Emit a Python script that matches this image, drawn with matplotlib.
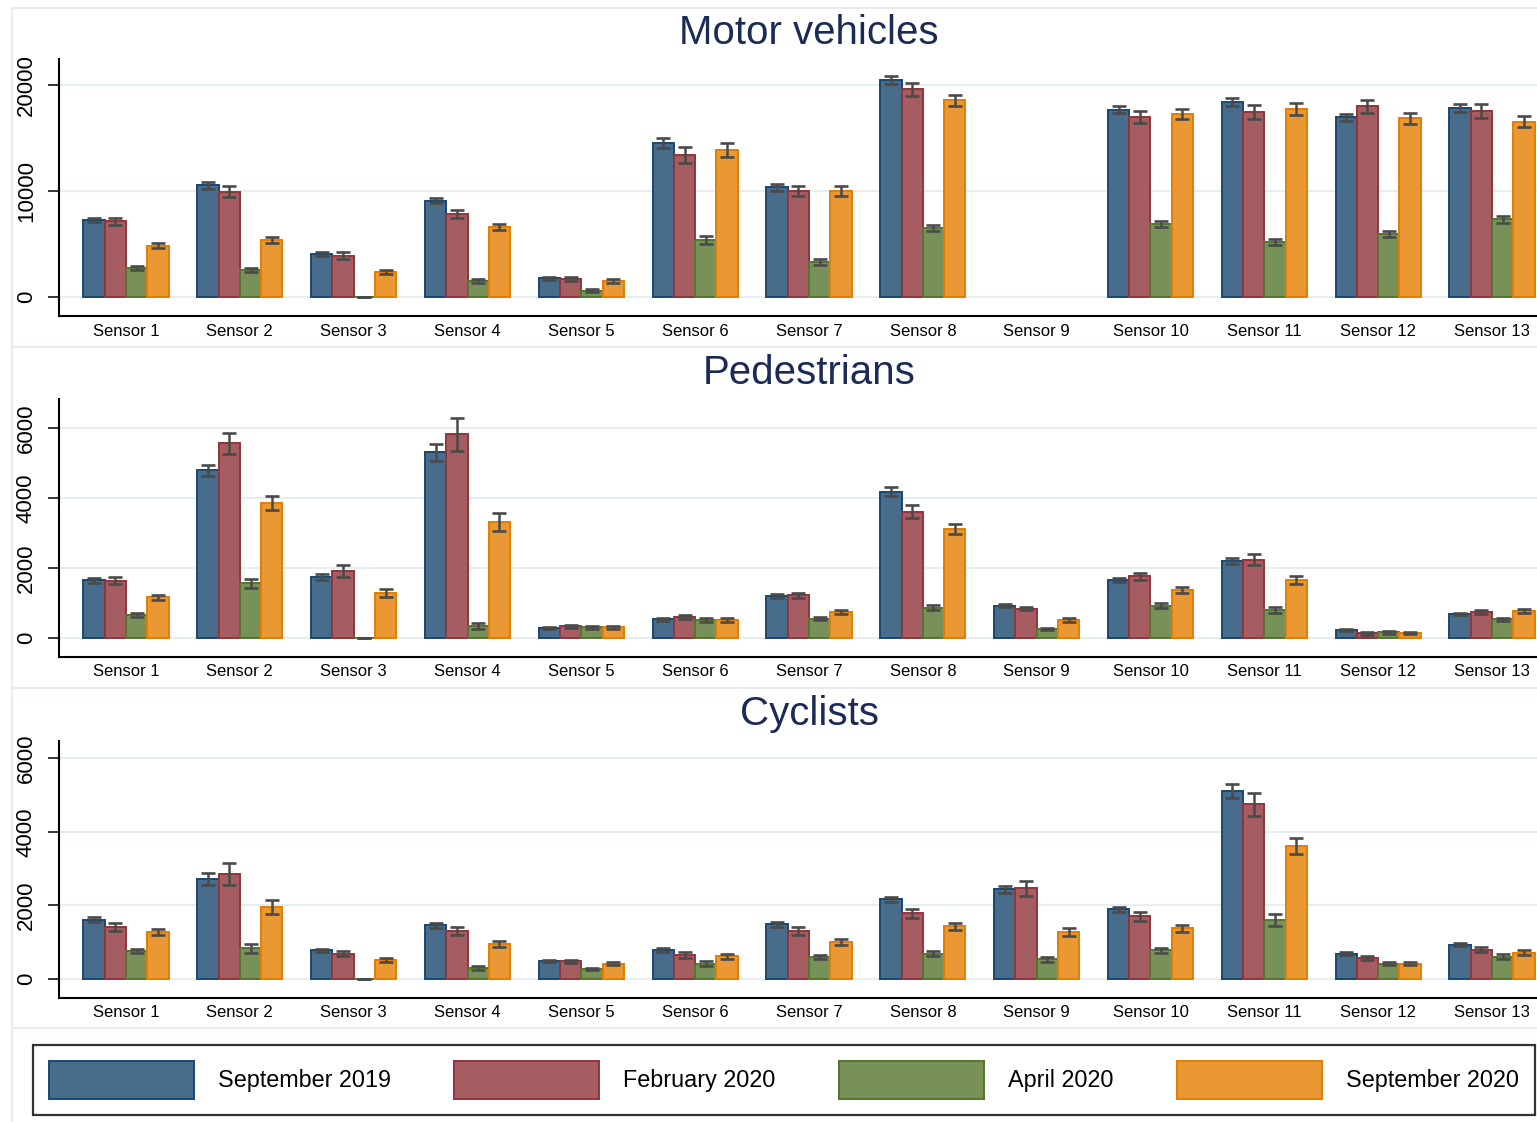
import numpy as np
import matplotlib
matplotlib.use("Agg")
import matplotlib.pyplot as plt
from matplotlib.patches import Patch
from matplotlib.lines import Line2D

plt.rcParams['font.family'] = ['Liberation Sans', 'DejaVu Sans']

sensors = [f"Sensor {i}" for i in range(1, 14)]
periods = ["September 2019", "February 2020", "April 2020", "September 2020"]
panel_titles = ["Motor vehicles", "Pedestrians", "Cyclists"]

nan = np.nan
# Motor vehicles (mean, error half-width)
mv_sep19 = [7300, 10540, 4040, 9090, 1770, 14540, 10380, 20500, nan, 17700, 18450, 17000, 17850]
mv_feb20 = [7150, 9940, 3910, 7820, 1700, 13410, 10000, 19650, nan, 17000, 17510, 18040, 17570]
mv_apr20 = [2710, 2560, 0, 1550, 570, 5390, 3310, 6500, nan, 6910, 5210, 5960, 7350]
mv_sep20 = [4830, 5390, 2370, 6620, 1510, 13910, 10000, 18610, nan, 17320, 17760, 16910, 16590]
mv_sep19_err = [200, 330, 200, 250, 140, 460, 330, 350, nan, 320, 360, 330, 380]
mv_feb20_err = [300, 530, 320, 400, 200, 740, 500, 620, nan, 540, 650, 630, 680]
mv_apr20_err = [190, 220, 0, 190, 140, 410, 280, 280, nan, 280, 270, 270, 350]
mv_sep20_err = [240, 320, 200, 320, 190, 680, 500, 520, nan, 490, 570, 510, 550]

# Pedestrians
pd_sep19 = [1657, 4800, 1743, 5314, 305, 543, 1210, 4190, 933, 1657, 2210, 229, 705]
pd_feb20 = [1650, 5571, 1914, 5829, 343, 619, 1229, 3619, 848, 1771, 2248, 143, 743]
pd_apr20 = [667, 1571, 0, 343, 314, 514, 562, 876, 267, 933, 800, 171, 543]
pd_sep20 = [1171, 3857, 1305, 3333, 314, 533, 743, 3114, 514, 1381, 1657, 152, 781]
pd_sep19_err = [70, 160, 90, 245, 30, 35, 50, 120, 45, 57, 90, 25, 30]
pd_feb20_err = [110, 300, 170, 470, 35, 60, 75, 180, 50, 100, 160, 35, 57]
pd_apr20_err = [67, 130, 0, 86, 35, 55, 50, 80, 40, 70, 80, 40, 45]
pd_sep20_err = [70, 195, 115, 257, 35, 57, 57, 148, 57, 76, 114, 40, 60]

# Cyclists
cy_sep19 = [1609, 2709, 782, 1455, 482, 782, 1482, 2164, 2436, 1891, 5109, 691, 936]
cy_feb20 = [1409, 2845, 691, 1300, 482, 645, 1300, 1782, 2464, 1700, 4745, 573, 800]
cy_apr20 = [755, 836, 0, 300, 264, 418, 600, 691, 536, 782, 1609, 418, 609]
cy_sep20 = [1273, 1945, 509, 945, 418, 618, 1000, 1427, 1273, 1373, 3609, 418, 718]
cy_sep19_err = [64, 164, 45, 59, 32, 59, 64, 73, 105, 73, 190, 36, 41]
cy_feb20_err = [100, 300, 64, 109, 45, 77, 105, 118, 205, 118, 314, 59, 68]
cy_apr20_err = [55, 118, 0, 50, 32, 59, 59, 73, 73, 68, 155, 50, 59]
cy_sep20_err = [77, 190, 50, 77, 41, 64, 77, 86, 100, 86, 223, 45, 59]

panels = [
    ([mv_sep19, mv_feb20, mv_apr20, mv_sep20], [mv_sep19_err, mv_feb20_err, mv_apr20_err, mv_sep20_err]),
    ([pd_sep19, pd_feb20, pd_apr20, pd_sep20], [pd_sep19_err, pd_feb20_err, pd_apr20_err, pd_sep20_err]),
    ([cy_sep19, cy_feb20, cy_apr20, cy_sep20], [cy_sep19_err, cy_feb20_err, cy_apr20_err, cy_sep20_err]),
]

edge_cols = ["#1a476f", "#90353b", "#55752f", "#e37e00"]
fill_cols = ["#486c8c", "#a65d62", "#779159", "#e99833"]
grid_col = "#e6eef1"
frame_col = "#e4ecef"
title_col = "#1c2b55"

W, H = 1537, 1122
fig = plt.figure(figsize=(W / 100, H / 100), dpi=100)

def fx(px):
    return px / W

def fy(py):
    return 1 - py / H

# axes pixel boxes (top, bottom) and y-limits
ax_boxes = [(59, 316, (-1800, 22500), [0, 10000, 20000]),
            (399.3, 656.7, (-526, 6829), [0, 2000, 4000, 6000]),
            (740.7, 997.7, (-508, 6476), [0, 2000, 4000, 6000])]
ax_left, ax_right = 59, 1559

x = np.arange(len(sensors))
bw = 0.187
offsets = (np.arange(4) - 1.5) * bw

for (vals, errs), (top, bot, ylim, yt), ttl in zip(panels, ax_boxes, panel_titles):
    ax = fig.add_axes([fx(ax_left), fy(bot), (ax_right - ax_left) / W, (bot - top) / H])
    ax.set_xlim(-0.589, 12.589)
    ax.set_ylim(*ylim)
    ax.set_axisbelow(True)
    ax.set_yticks(yt)
    ax.yaxis.grid(True, color=grid_col, linewidth=1.5, zorder=0)
    for k in range(4):
        v = np.array(vals[k], dtype=float)
        e = np.array(errs[k], dtype=float)
        ax.bar(x + offsets[k], v, width=bw, color=fill_cols[k], edgecolor=edge_cols[k],
               linewidth=1.4, zorder=2)
        ax.errorbar(x + offsets[k], v, yerr=e, fmt='none', ecolor="#4a4a4a",
                    elinewidth=1.8, capsize=5, capthick=1.9, zorder=3)
    ax.set_xticks(x)
    ax.set_xticklabels(sensors, fontsize=12)
    ax.tick_params(axis='x', length=0, pad=5.5)
    ax.tick_params(axis='y', length=8, width=1.1, pad=8, labelsize=16)
    plt.setp(ax.get_yticklabels(), rotation=90, va='center')
    for s in ['top', 'right']:
        ax.spines[s].set_visible(False)
    for s in ['left', 'bottom']:
        ax.spines[s].set_linewidth(1.5)
        ax.spines[s].set_color('black')
    ax.set_title(ttl, fontsize=29, color=title_col, pad=11)

# light panel frames
for yy in [8, 347, 688, 1028]:
    fig.add_artist(Line2D([fx(12), 1.0], [fy(yy), fy(yy)], color=frame_col, linewidth=1.3))
fig.add_artist(Line2D([fx(12), fx(12)], [fy(8), 0], color=frame_col, linewidth=1.3))

handles = [Patch(facecolor=fill_cols[k], edgecolor=edge_cols[k], linewidth=1.4) for k in range(4)]
leg = fig.legend(handles, periods, loc='lower left', ncol=4, mode='expand',
                 bbox_to_anchor=(fx(33), fy(1115), (1535 - 33) / W, (1115 - 1044) / H),
                 borderaxespad=0, fontsize=16.8, handlelength=6.2, handleheight=2.15,
                 handletextpad=1.03, borderpad=0.68, frameon=True, fancybox=False)
leg.get_frame().set_edgecolor('black')
leg.get_frame().set_linewidth(1.6)

fig.savefig("out.png", dpi=100)
